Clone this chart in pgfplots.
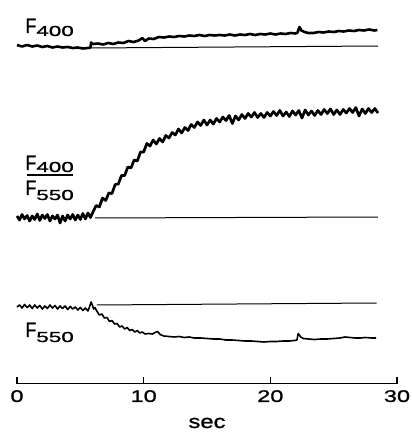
\documentclass[border=0pt]{standalone}
\usepackage{pgfplots}
\pgfplotsset{compat=1.18}
\usepackage{fontspec}
\setmainfont{Liberation Sans}
\newfontfamily\narrowF[FakeStretch=0.85, FakeBold=1.2]{Liberation Sans}
\newfontfamily\widedig[FakeStretch=1.55, FakeBold=1.2]{Liberation Sans}
\newfontfamily\tickf[FakeStretch=1.4, FakeBold=1.2]{Liberation Sans}
\newfontfamily\secf[FakeStretch=1.25, FakeBold=1.2]{Liberation Sans}
% F with lowered wide digits, as in the trace labels
\newcommand{\Flab}[2][3pt]{{\narrowF\fontsize{21}{21}\selectfont F}\raisebox{-#1}{\widedig\fontsize{14.5}{14.5}\selectfont #2}}

\begin{document}
\begin{tikzpicture}
\begin{axis}[scale only axis, width=380pt, height=383.5pt,
  xmin=0, xmax=30, ymin=-383.5, ymax=0,
  axis x line=bottom, axis y line=none,
  x axis line style={-, line width=1.3pt},
  xtick={0,10,20,30}, xticklabels={0,10,20,30},
  xtick align=inside, major tick length=6.5pt,
  tick style={line width=1.3pt, black},
  xticklabel style={font=\tickf\fontsize{16.8}{17}\selectfont, anchor=north, inner sep=0pt, yshift=-6.5pt},
  /pgf/number format/assume math mode=true,
  clip=false]

% F400 trace
\addplot[black, line width=2.6pt, line join=round] coordinates {
(0,-45) (0.4,-46.5) (0.8,-45) (1.2,-46.5) (1.6,-45.5) (2.0,-47) (2.4,-46) (2.8,-47.5)
(3.2,-46.5) (3.6,-47.5) (4.0,-47) (4.4,-48) (4.8,-47.5) (5.2,-48.5) (5.6,-48) (5.8,-47.5)
(5.85,-42.5) (6.0,-44) (6.4,-43.5) (6.8,-44.5) (7.2,-43) (7.6,-44) (8.0,-42.5) (8.4,-43)
(8.8,-41) (9.2,-42) (9.6,-40.5) (9.9,-38) (10.1,-41) (10.4,-38.5) (10.8,-39) (11.2,-37)
(11.6,-37.5) (12.0,-36.5) (12.4,-37) (12.8,-36) (13.2,-36.5) (13.6,-35.5) (14.0,-36)
(14.4,-35) (14.8,-36) (15.2,-35) (15.6,-35.5) (16.0,-35) (16.4,-35.5) (16.8,-34.5)
(17.2,-35.5) (17.6,-34.5) (18.0,-35) (18.4,-34) (18.8,-35) (19.2,-34) (19.6,-34.5)
(20.0,-33.5) (20.4,-34.5) (20.8,-33.5) (21.2,-34) (21.6,-33) (22.0,-33.5) (22.15,-32.5)
(22.3,-27) (22.45,-30.5) (22.7,-32) (23.0,-33) (23.4,-33) (23.8,-32) (24.2,-32.5)
(24.6,-31.5) (25.0,-32) (25.4,-31) (25.8,-31.5) (26.2,-30.5) (26.6,-31) (27.0,-30)
(27.4,-30.5) (27.8,-29.5) (28.2,-30.5) (28.45,-30)};
\addplot[black, line width=1pt] coordinates {(5.8,-48) (28.5,-46)};

% F400/F550 ratio trace
\addplot[black, line width=2.7pt, line join=round] coordinates {
(0.0,-216) (0.2,-220) (0.4,-214.5) (0.6,-219) (0.8,-215.5) (1.0,-221) (1.2,-216)
(1.4,-219.5) (1.6,-214) (1.8,-220.5) (2.0,-215) (2.2,-218.5) (2.4,-214.5) (2.6,-221)
(2.8,-216) (3.0,-219) (3.2,-215) (3.4,-223) (3.6,-216) (3.8,-221) (4.0,-215) (4.2,-219)
(4.4,-214.5) (4.6,-220) (4.8,-215) (5.0,-219.5) (5.2,-213.5) (5.4,-219) (5.6,-213)
(5.8,-217.5)
(6.0,-212) (6.25,-205.5) (6.5,-207) (6.75,-198) (7.0,-200.5) (7.25,-193) (7.5,-193.5)
(7.75,-184.5) (8.0,-184) (8.25,-175.5) (8.5,-175.5) (8.75,-167) (9.0,-168) (9.25,-160)
(9.5,-161) (9.75,-152) (10.0,-152) (10.25,-143.5) (10.5,-146) (10.75,-140) (11.0,-144)
(11.25,-138.5) (11.5,-142) (11.75,-135.5) (12.0,-138) (12.25,-132.5) (12.5,-135)
(12.75,-129) (13.0,-133) (13.25,-127.5) (13.5,-130.5) (13.75,-124.5) (14.0,-127.5)
(14.25,-122) (14.5,-125.5) (14.75,-120) (15.0,-125) (15.25,-120) (15.5,-124)
(15.75,-118.5) (16.0,-122) (16.25,-117) (16.5,-120.5) (16.75,-115.5) (17.0,-123.5)
(17.25,-116) (17.5,-120) (17.75,-114.5) (18.0,-118.5) (18.25,-113.5) (18.5,-117)
(18.75,-112.5) (19.0,-117.5) (19.25,-113.5) (19.5,-117.5) (19.75,-112.5) (20.0,-116)
(20.25,-111.5) (20.5,-115.5) (20.75,-110.5) (21.0,-116) (21.25,-112) (21.5,-116.5)
(21.75,-111) (22.0,-115) (22.25,-110.5) (22.5,-118) (22.75,-110) (23.0,-115)
(23.25,-111) (23.5,-115.5) (23.75,-110.5) (24.0,-114.5) (24.25,-109.5) (24.5,-113.5)
(24.75,-109) (25.0,-114.5) (25.25,-110) (25.5,-114.5) (25.75,-109.5) (26.0,-113)
(26.25,-108.5) (26.5,-112.5) (26.75,-107.5) (27.0,-116) (27.25,-109) (27.5,-113.5)
(27.75,-108.5) (28.0,-112.5) (28.25,-108.5) (28.5,-113)};
\addplot[black, line width=1pt] coordinates {(6.16,-218) (28.5,-217)};

% F550 trace
\addplot[black, line width=1.6pt, line join=round] coordinates {
(0,-307) (0.2,-305) (0.4,-308) (0.6,-304.5) (0.8,-307.5) (1.0,-305) (1.2,-308.5)
(1.4,-305) (1.6,-308) (1.8,-305.5) (2.0,-309) (2.2,-306) (2.4,-308.5) (2.6,-305)
(2.8,-308) (3.0,-305.5) (3.2,-309) (3.4,-306) (3.6,-308.5) (3.8,-306) (4.0,-309.5)
(4.2,-306.5) (4.4,-309) (4.6,-307) (4.8,-310) (5.0,-307.5) (5.2,-310.5) (5.4,-308)
(5.6,-311) (5.75,-306) (5.85,-302) (5.95,-305) (6.05,-309) (6.15,-307.5)
(6.3,-311) (6.5,-315) (6.7,-314) (6.9,-318) (7.1,-317.5) (7.3,-321.5) (7.5,-320.5)
(7.7,-324) (7.9,-323.5) (8.1,-327) (8.3,-326) (8.5,-329) (8.7,-327.5) (8.9,-330.5)
(9.1,-329.5) (9.3,-332) (9.5,-330.5) (9.7,-333) (9.9,-332) (10.1,-334) (10.4,-333.5)
(10.7,-334) (10.9,-332.5) (11.1,-331.5) (11.3,-334.5) (11.6,-336) (12.0,-336.5)
(12.4,-337) (12.8,-336.5) (13.2,-337.5) (13.6,-337) (14.0,-338) (14.5,-338)
(15.0,-338.5) (15.5,-339) (16.0,-339) (16.5,-340) (17.0,-340) (17.5,-340.5)
(18.0,-341) (18.5,-341) (19.0,-341.5) (19.5,-342) (20.0,-341.5) (20.5,-341.5)
(21.0,-341) (21.5,-341) (21.9,-340.5) (22.1,-340) (22.2,-333.5) (22.4,-337)
(22.6,-338.5) (23.0,-339) (23.5,-339.5) (24.0,-339) (24.5,-339) (25.0,-338.5)
(25.5,-338) (25.9,-337) (26.3,-337.5) (26.7,-338) (27.1,-338) (27.5,-337.5)
(28.0,-338) (28.35,-338)};
\addplot[black, line width=1pt] coordinates {(6.3,-305) (28.4,-303)};

% labels
\node[anchor=base west, inner sep=0pt] at (axis cs:0.65,-33) {\Flab{400}};
\node[anchor=base west, inner sep=0pt] at (axis cs:0.65,-170) {\Flab[2pt]{400}};
\draw[line width=1.3pt] (axis cs:0.79,-175) -- (axis cs:4.4,-175);
\node[anchor=base west, inner sep=0pt] at (axis cs:0.65,-195) {\Flab[5pt]{550}};
\node[anchor=base west, inner sep=0pt] at (axis cs:0.65,-337) {\Flab[5pt]{550}};
\node[anchor=base, inner sep=0pt, font=\secf\fontsize{19}{19}\selectfont] at (axis cs:15,-428) {sec};

% picture frame
\path (axis cs:-1.342,-432) rectangle (axis cs:31.184,0);
\end{axis}
\end{tikzpicture}
\end{document}
